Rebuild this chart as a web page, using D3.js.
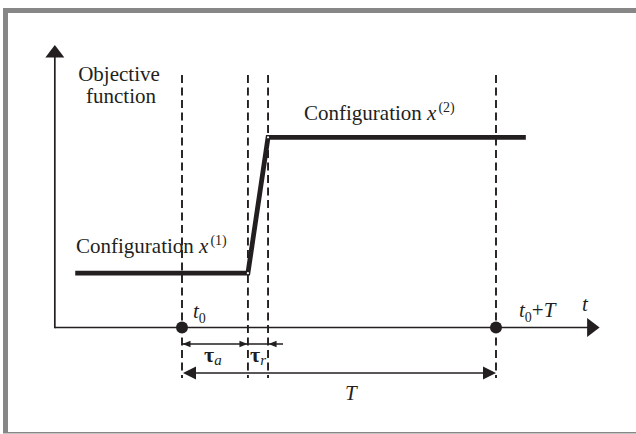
<!DOCTYPE html>
<html>
<head>
<meta charset="utf-8">
<script src="https://cdn.jsdelivr.net/npm/d3@7"></script>
<style>
  html, body { margin: 0; padding: 0; background: #fff; }
  svg text { font-family: "Liberation Serif", "Times New Roman", serif; fill: #231f20; }
</style>
</head>
<body>
<svg id="chart" width="636" height="434"></svg>
<script>
// time instants (t0 = 0, T = 10): t0, t0+tau_a, t0+tau_a+tau_r, t0+T
const marks = [0, 2.1, 2.74, 10];
// objective function profile (time, value)
const profileT = [-3.4, 2.1, 2.74, 10.95];
const profileF = [1, 1, 3.5, 3.5];
// axis extents
const axisT = [-4.05, 13.3];
const axisF = [0, 5.2];
const configLabels = ["(1)", "(2)"];

const INK = "#231f20";

function drawViz() {
  const svg = d3.select("#chart");
  svg.selectAll("*").remove();

  const x = d3.scaleLinear().domain([0, 10]).range([182, 496]);
  const y = d3.scaleLinear().domain(axisF).range([327.5, 45]);

  // frame
  svg.append("rect").attr("x", 3).attr("y", 8).attr("width", 633).attr("height", 5).attr("fill", "#878787");
  svg.append("rect").attr("x", 3).attr("y", 8).attr("width", 5).attr("height", 425).attr("fill", "#878787");
  svg.append("rect").attr("x", 3).attr("y", 432).attr("width", 633).attr("height", 1.5).attr("fill", "#878787");

  const g = svg.append("g");

  // dashed guides
  g.selectAll("line.guide")
    .data(marks)
    .enter()
    .append("line")
    .attr("class", "guide")
    .attr("x1", d => x(d)).attr("x2", d => x(d))
    .attr("y1", 75).attr("y2", 378)
    .attr("stroke", INK)
    .attr("stroke-width", 1.9)
    .attr("stroke-dasharray", "8,4.5");

  // axes
  const x0 = x(axisT[0]), y0 = y(0);
  g.append("line")
    .attr("x1", x0).attr("x2", x(axisT[1]) - 6)
    .attr("y1", y0).attr("y2", y0)
    .attr("stroke", INK).attr("stroke-width", 1.7);
  g.append("line")
    .attr("x1", x0).attr("x2", x0)
    .attr("y1", y0 + 0.85).attr("y2", y(axisF[1]) + 6)
    .attr("stroke", INK).attr("stroke-width", 1.7);

  const tipX = x(axisT[1]), tipY = y(axisF[1]);
  g.append("path")
    .attr("d", `M${tipX},${y0} L${tipX - 12.5},${y0 - 9.5} L${tipX - 12.5},${y0 + 9.5} Z`)
    .attr("fill", INK);
  g.append("path")
    .attr("d", `M${x0},${tipY} L${x0 - 9.5},${tipY + 12.5} L${x0 + 9.5},${tipY + 12.5} Z`)
    .attr("fill", INK);

  // objective function profile
  const line = d3.line().x(d => x(d[0])).y(d => y(d[1]));
  const pts = profileT.map((t, i) => [t, profileF[i]]);
  g.append("path")
    .attr("d", line(pts))
    .attr("fill", "none")
    .attr("stroke", INK)
    .attr("stroke-width", 4.8);
  g.selectAll("circle.joint")
    .data(pts.slice(1, 3))
    .enter()
    .append("circle")
    .attr("cx", d => x(d[0])).attr("cy", d => y(d[1]))
    .attr("r", 1.1)
    .attr("fill", "#fff");

  // t0 and t0+T dots
  g.selectAll("circle.dot")
    .data([marks[0], marks[3]])
    .enter()
    .append("circle")
    .attr("cx", d => x(d)).attr("cy", y0)
    .attr("r", 6)
    .attr("fill", INK);

  // tau arrows
  const ya = 344;
  g.append("line")
    .attr("x1", x(marks[0])).attr("x2", x(marks[2]) + 15)
    .attr("y1", ya).attr("y2", ya)
    .attr("stroke", INK).attr("stroke-width", 1.4);
  const small = (tx, dir) =>
    `M${tx},${ya} L${tx - dir * 8},${ya - 3.2} L${tx - dir * 8},${ya + 3.2} Z`;
  g.append("path").attr("d", small(x(marks[0]) + 0.5, -1)).attr("fill", INK);
  g.append("path").attr("d", small(x(marks[1]) - 0.5, 1)).attr("fill", INK);
  g.append("path").attr("d", small(x(marks[2]) + 0.5, -1)).attr("fill", INK);

  // T arrow
  const yT = 373;
  g.append("line")
    .attr("x1", x(marks[0]) + 6).attr("x2", x(marks[3]) - 6)
    .attr("y1", yT).attr("y2", yT)
    .attr("stroke", INK).attr("stroke-width", 1.7);
  const big = (tx, dir) =>
    `M${tx},${yT} L${tx - dir * 13},${yT - 6.5} L${tx - dir * 13},${yT + 6.5} Z`;
  g.append("path").attr("d", big(x(marks[0]) + 1, -1)).attr("fill", INK);
  g.append("path").attr("d", big(x(marks[3]), 1)).attr("fill", INK);

  // texts
  const txt = (px, py, size) => g.append("text").attr("x", px).attr("y", py).style("font-size", size + "px");

  txt(119, 81, 21).attr("text-anchor", "middle").text("Objective");
  txt(121, 103, 21).attr("text-anchor", "middle").text("function");

  const conf = (px, py, sup) => {
    const t = txt(px, py, 21);
    t.append("tspan").text("Configuration ");
    t.append("tspan").style("font-style", "italic").text("x");
    t.append("tspan").attr("dx", 2).attr("dy", -8).style("font-size", "14px").text(sup);
  };
  conf(76, 253, configLabels[0]);
  conf(304, 120, configLabels[1]);

  // t0
  const t0 = txt(193, 318, 21);
  t0.append("tspan").style("font-style", "italic").text("t");
  t0.append("tspan").attr("dy", 5).style("font-size", "14px").text("0");

  // t0+T
  const tT = txt(519, 317, 21);
  tT.append("tspan").style("font-style", "italic").text("t");
  tT.append("tspan").attr("dy", 5).style("font-size", "14px").text("0");
  tT.append("tspan").attr("dy", -5).text("+");
  tT.append("tspan").style("font-style", "italic").text("T");

  // t axis label
  txt(582, 311, 21).style("font-style", "italic").text("t");

  // tau labels
  const ta = txt(204, 362, 22);
  ta.append("tspan").style("font-weight", "bold").text("τ");
  ta.append("tspan").attr("dy", 3).style("font-size", "15px").style("font-style", "italic").text("a");
  const tr = txt(250, 362, 22);
  tr.append("tspan").style("font-weight", "bold").text("τ");
  tr.append("tspan").attr("dy", 3).style("font-size", "15px").style("font-style", "italic").text("r");

  // T label
  txt(345, 400, 21).style("font-style", "italic").text("T");
}

drawViz();
</script>
</body>
</html>
